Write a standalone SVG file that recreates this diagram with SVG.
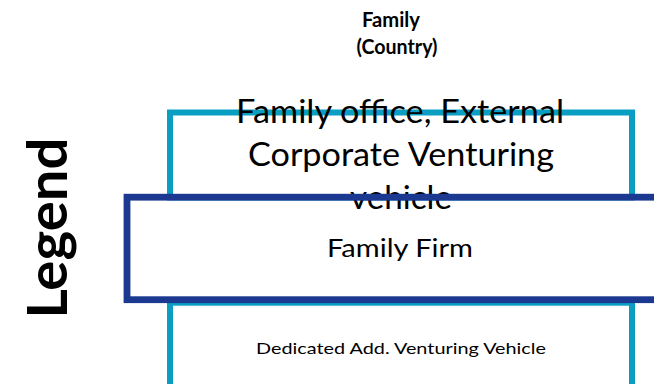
<svg xmlns="http://www.w3.org/2000/svg" width="654" height="384" viewBox="0 0 654 384">
  <style>
    .txt { font-family: Lato, "Open Sans", "Liberation Sans", sans-serif; fill: #000; text-anchor: middle; }
    .bold { font-weight: bold; }
    .cyan { fill: none; stroke: #0A9EC3; stroke-width: 6; }
    .navy { fill: none; stroke: #1B3990; stroke-width: 6.8; }
  </style>
  <rect width="654" height="384" fill="#fff"/>

  <!-- header -->
  <g id="header">
    <text class="txt bold" x="391" y="27" font-size="20" textLength="58" lengthAdjust="spacingAndGlyphs">Family</text>
    <text class="txt bold" x="397" y="54" font-size="20" textLength="81" lengthAdjust="spacingAndGlyphs">(Country)</text>
  </g>

  <!-- rotated legend label -->
  <g id="legend-label">
    <text class="txt bold" transform="translate(67,228) rotate(-90)" font-size="56" textLength="181" lengthAdjust="spacingAndGlyphs">Legend</text>
  </g>

  <!-- outer venturing vehicle (cyan) -->
  <g id="family-office">
    <rect class="cyan" x="170" y="112.5" width="462" height="85"/>
    <text class="txt" x="400" y="123" font-size="32" textLength="328" lengthAdjust="spacingAndGlyphs">Family office, External</text>
    <text class="txt" x="401" y="166" font-size="32" textLength="306" lengthAdjust="spacingAndGlyphs">Corporate Venturing</text>
    <text class="txt" x="401" y="209" font-size="32" textLength="102" lengthAdjust="spacingAndGlyphs">vehicle</text>
  </g>

  <!-- dedicated vehicle (cyan, lower) -->
  <g id="dedicated-vehicle">
    <rect class="cyan" x="170" y="302.7" width="462" height="120"/>
    <text class="txt" x="401" y="354" font-size="16" textLength="290" lengthAdjust="spacingAndGlyphs">Dedicated Add. Venturing Vehicle</text>
  </g>

  <!-- family firm (navy) -->
  <g id="family-firm">
    <rect class="navy" x="127" y="197.2" width="560" height="102.5"/>
    <text class="txt" x="400" y="257" font-size="25" textLength="146" lengthAdjust="spacingAndGlyphs">Family Firm</text>
  </g>
</svg>
